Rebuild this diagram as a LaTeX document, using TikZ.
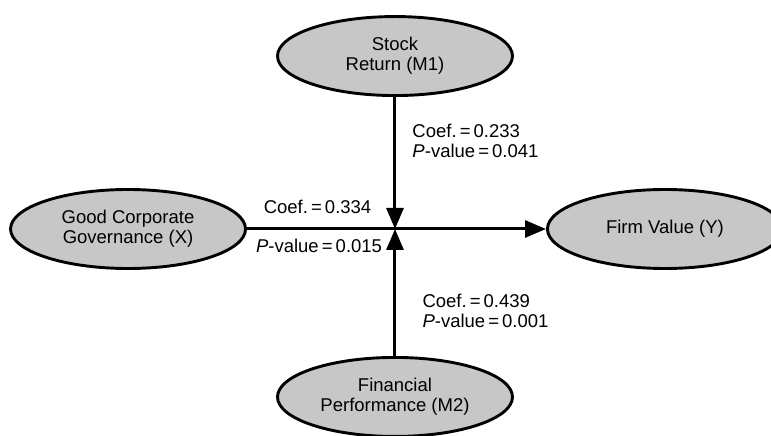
\documentclass[tikz,border=0pt]{standalone}
\usepackage{fontspec}
\setmainfont{Liberation Sans}
\usepackage{tikz}
\usetikzlibrary{shapes.geometric, arrows.meta, positioning}

\begin{document}
\begin{tikzpicture}[font=\fontsize{18.5}{20}\selectfont]
    % Node Styles
    \tikzstyle{latent} = [ellipse, draw, line width=2.9pt, fill=black!22, minimum width=235pt, minimum height=79pt, inner sep=0pt, align=center]
    \tikzstyle{line} = [draw, line width=3pt, -{Triangle[length=21pt, width=17pt]}]
    \tikzstyle{coef} = [align=left, inner sep=0pt]

    % --- CENTRE POINT ---
    \coordinate (hub) at (0,0);
    \useasboundingbox (-395pt,-207pt) rectangle (376pt,229pt);

    % --- VARIABLES ---
    \node [latent, above=132pt of hub] (ret) {Stock\\Return (M1)};
    \node [latent, below=127pt of hub] (perf) {Financial\\Performance (M2)};
    \node [latent, left=148pt of hub] (gcg) {Good Corporate\\Governance (X)};
    \node [latent, right=151pt of hub] (firm) {Firm Value (Y)};

    % --- PATHS ---
    \path [line] (gcg.east) -- node[coef, pos=0.236, above=14pt] {Coef.\,=\,0.334}
        node[coef, pos=0.241, below=9pt] {\textit{P}-value\,=\,0.015} (firm.west);

    \path [line] (ret) -- node[coef, pos=0.33, right=16pt] {Coef.\,=\,0.233\\\textit{P}-value\,=\,0.041} (hub);

    \path [line] (perf) -- node[coef, pos=0.359, right=26pt] {Coef.\,=\,0.439\\\textit{P}-value\,=\,0.001} (hub);

\end{tikzpicture}
\end{document}
